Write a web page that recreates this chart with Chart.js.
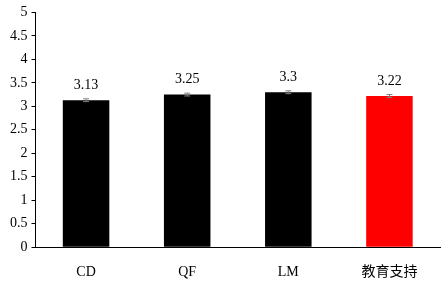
<!DOCTYPE html>
<html>
<head>
<meta charset="utf-8">
<script src="https://cdn.jsdelivr.net/npm/chart.js@4/dist/chart.umd.min.js"></script>
<style>
  html, body { margin: 0; padding: 0; background: #fff; }
  #wrap { width: 443px; height: 281px; }
</style>
</head>
<body>
<div id="wrap"><canvas id="barChart"></canvas></div>
<script>
var categories = ['CD', 'QF', 'LM', '教育支持'];
var means = [3.13, 3.25, 3.3, 3.22];
var errors = [0.03, 0.03, 0.03, 0.03];
var barColors = ['#000000', '#000000', '#000000', '#ff0000'];

var serif = "'Liberation Serif', 'Times New Roman', 'Noto Sans CJK SC', serif";

// error bars + value labels drawn after the bars
var extras = {
    id: 'extras',
    afterDatasetsDraw: function(chart) {
        var c = chart.ctx;
        var y = chart.scales.y;
        var meta = chart.getDatasetMeta(0);
        c.save();
        meta.data.forEach(function(bar, i) {
            var top = y.getPixelForValue(means[i] + errors[i]);
            var bot = y.getPixelForValue(means[i] - errors[i]);
            c.strokeStyle = '#808080';
            c.lineWidth = 1;
            c.beginPath();
            c.moveTo(bar.x, top); c.lineTo(bar.x, bot);
            c.moveTo(bar.x - 3, top); c.lineTo(bar.x + 3, top);
            c.moveTo(bar.x - 3, bot); c.lineTo(bar.x + 3, bot);
            c.stroke();
            c.fillStyle = '#000';
            c.font = '14px ' + serif;
            c.textAlign = 'center';
            c.textBaseline = 'bottom';
            c.fillText(String(means[i]), bar.x, y.getPixelForValue(means[i]) - 8);
        });
        c.restore();
    }
};

var ctx = document.getElementById('barChart').getContext('2d');
var barChart = new Chart(ctx, {
    type: 'bar',
    data: {
        labels: categories,
        datasets: [{
            data: means,
            backgroundColor: barColors,
            barPercentage: 0.46,
            categoryPercentage: 1.0
        }]
    },
    options: {
        responsive: true,
        maintainAspectRatio: false,
        animation: false,
        layout: { padding: { top: 1, right: 3, bottom: -9, left: 6 } },
        plugins: {
            legend: { display: false },
            tooltip: { enabled: false }
        },
        scales: {
            x: {
                grid: { display: false },
                border: { color: '#000', width: 1 },
                ticks: { color: '#000', padding: 9, font: { family: serif, size: 14 } }
            },
            y: {
                min: 0,
                max: 5,
                ticks: {
                    stepSize: 0.5, color: '#000', padding: 4,
                    font: { family: serif, size: 14 },
                    callback: function(v) { return String(v); }
                },
                grid: { drawOnChartArea: false, tickLength: 4, color: '#000' },
                border: { color: '#000', width: 1 }
            }
        }
    },
    plugins: [extras]
});
</script>
</body>
</html>
